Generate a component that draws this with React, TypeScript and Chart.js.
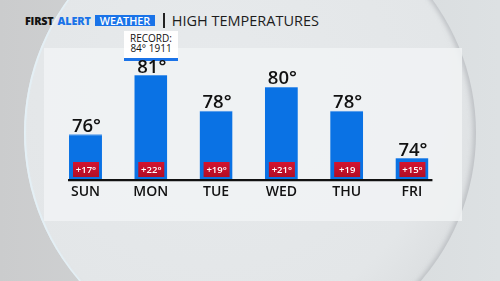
import React, { useEffect, useRef } from "react";
import { Chart, registerables } from "chart.js";

Chart.register(...registerables);

const days = ["SUN", "MON", "TUE", "WED", "THU", "FRI"];
const highs = [76, 81, 78, 80, 78, 74];
const departures = ["+17°", "+22°", "+19°", "+21°", "+19", "+15°"];
const headerBrand = ["FIRST", "ALERT", "WEATHER"];
const headerTitle = "HIGH TEMPERATURES";
const recordLines = ["RECORD:", "84° 1911"];

const FONT = "'Open Sans', 'DejaVu Sans', sans-serif";
const BLUE = "#0a72e4";

const labelsPlugin = {
  id: "labelsPlugin",
  afterDatasetsDraw(chart: any) {
    const ctx = chart.ctx;
    const meta = chart.getDatasetMeta(0);
    const area = chart.chartArea;
    ctx.save();
    const first = meta.data[0];
    const last = meta.data[meta.data.length - 1];
    ctx.strokeStyle = "#111";
    ctx.lineWidth = 2.2;
    ctx.beginPath();
    ctx.moveTo(first.x - first.width / 2 - 1, area.bottom + 0.6);
    ctx.lineTo(last.x + last.width / 2 + 4, area.bottom + 0.6);
    ctx.stroke();

    meta.data.forEach((bar: any, i: number) => {
      ctx.fillStyle = "#111";
      ctx.font = `600 18.5px ${FONT}`;
      ctx.textAlign = "center";
      ctx.textBaseline = "alphabetic";
      ctx.fillText(`${highs[i]}°`, bar.x + 1, bar.y - 2.5);
      const bw = 26;
      const bh = 15;
      const bx = bar.x - bw / 2 + 0.5;
      const by = area.bottom - 2.5 - bh;
      const g = ctx.createLinearGradient(0, by, 0, by + bh);
      g.addColorStop(0, "#d3142f");
      g.addColorStop(1, "#b30d25");
      ctx.fillStyle = g;
      ctx.fillRect(bx, by, bw, bh);
      ctx.fillStyle = "#ffffff";
      ctx.font = `600 9.5px ${FONT}`;
      ctx.textBaseline = "middle";
      ctx.fillText(departures[i], bar.x + 0.5, by + bh / 2 + 0.5);
    });
    ctx.restore();
  },
};

export default function App() {
  const ref = useRef<HTMLCanvasElement | null>(null);

  useEffect(() => {
    if (!ref.current) return;
    const chart = new Chart(ref.current, {
      type: "bar",
      data: {
        labels: days,
        datasets: [
          {
            data: highs,
            backgroundColor: BLUE,
            borderColor: "#4d97ea",
            borderWidth: { top: 1, left: 0, right: 0, bottom: 0 },
            borderSkipped: false,
            categoryPercentage: 1,
            barPercentage: 0.505,
          },
        ],
      },
      options: {
        animation: false,
        responsive: false,
        maintainAspectRatio: false,
        layout: { padding: { left: 52.85, right: 55.4, top: 39.5, bottom: 76.7 } },
        plugins: { legend: { display: false }, tooltip: { enabled: false } },
        scales: {
          x: {
            grid: { display: false, drawTicks: false },
            border: { display: false },
            ticks: {
              color: "#111",
              padding: 4,
              font: { family: FONT, size: 14, weight: 600 },
            },
          },
          y: {
            display: false,
            min: 72.19,
            max: 84,
          },
        },
      },
      plugins: [labelsPlugin],
    });
    return () => chart.destroy();
  }, []);

  return (
    <div
      style={{
        position: "fixed",
        left: 0,
        top: 0,
        width: 500,
        height: 281,
        overflow: "hidden",
        background: "linear-gradient(90deg, #cbcccd 0%, #d3d6d8 45%, #dde1e3 100%)",
        fontFamily: FONT,
      }}
    >
      <div
        style={{
          position: "absolute",
          left: 24,
          top: -93,
          width: 452,
          height: 452,
          borderRadius: "50%",
          background:
            "radial-gradient(circle at 42% 40%, #e7eaec 0%, #e3e6e8 62%, #d7dadc 85%, #c4c7c9 100%)",
          boxShadow: "inset 2px 0 1px rgba(228,240,246,1), inset -3px 0 4px rgba(170,174,178,0.6)",
        }}
      />
      <div
        style={{
          position: "absolute",
          left: 44,
          top: 48,
          width: 418,
          height: 173,
          background: "rgba(240,242,244,0.88)",
        }}
      />
      <div
        style={{
          position: "absolute",
          left: 25,
          top: 12,
          height: 16,
          display: "flex",
          alignItems: "center",
          whiteSpace: "nowrap",
        }}
      >
        <span style={{ fontWeight: 800, fontSize: 10.8, color: "#111", letterSpacing: -0.2 }}>
          {headerBrand[0]}
        </span>
        <span
          style={{ fontWeight: 800, fontSize: 10.8, color: "#1a73e8", marginLeft: 4, letterSpacing: -0.1 }}
        >
          {headerBrand[1]}
        </span>
        <span
          style={{
            fontWeight: 600,
            fontSize: 10.8,
            color: "#fff",
            background: "#1a73e8",
            marginLeft: 4,
            padding: "0 5px 0 5px",
            height: 11,
            lineHeight: "11px",
          }}
        >
          {headerBrand[2]}
        </span>
        <span
          style={{
            display: "inline-block",
            width: 1.5,
            height: 15,
            background: "#222",
            marginLeft: 8,
          }}
        />
        <span style={{ fontWeight: 500, fontSize: 14.5, color: "#1c1c1c", marginLeft: 7, letterSpacing: 0 }}>
          {headerTitle}
        </span>
      </div>
      <div
        style={{
          position: "absolute",
          left: 124,
          top: 31,
          width: 54,
          height: 24,
          background: "rgba(255,255,255,0.95)",
          borderBottom: "3px solid #1a73e8",
          textAlign: "center",
          color: "#111",
          fontSize: 10,
          fontWeight: 500,
          lineHeight: "9.5px",
          paddingTop: 3,
          boxSizing: "content-box",
        }}
      >
        <div>{recordLines[0]}</div>
        <div>{recordLines[1]}</div>
      </div>
      <canvas
        ref={ref}
        width={500}
        height={281}
        style={{ position: "absolute", left: 0, top: 0, width: 500, height: 281 }}
      />
    </div>
  );
}
